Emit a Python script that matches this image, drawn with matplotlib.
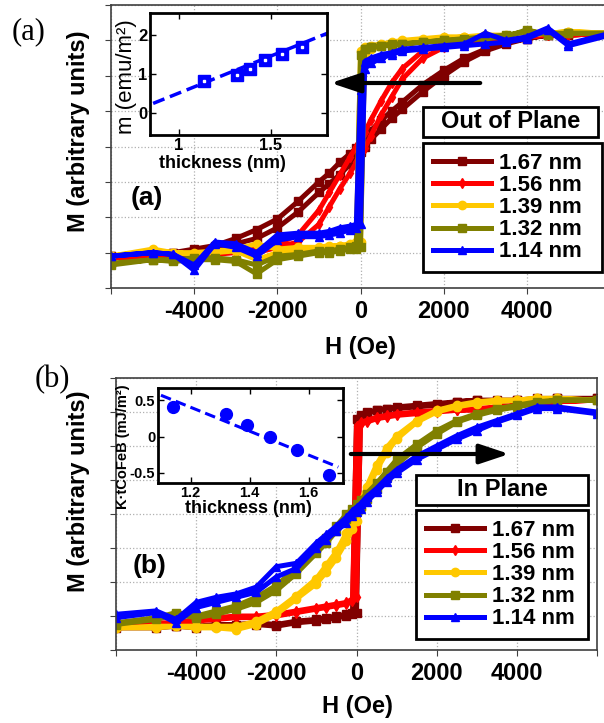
import numpy as np
import matplotlib.pyplot as plt
from matplotlib.patches import Rectangle, FancyArrowPatch

plt.rcParams['font.family'] = ['Liberation Sans', 'DejaVu Sans']

# applied field (Oe), same grid for every branch
field = [-6000, -5000, -4500, -4000, -3500, -3000, -2500, -2000, -1500, -1000,
         -750, -500, -250, -100, 0, 100, 250, 500, 750, 1000,
         1500, 2000, 2500, 3000, 3500, 4000, 4500, 5000, 6000]

# (a) out of plane, up = increasing field, dn = decreasing field
oop_167_up = [-3.1, -3.05, -3.0, -3.0, -2.9, -2.75, -2.6, -2.3, -1.85, -1.3, -1.05, -0.8, -0.5, -0.3, -0.15,
              0.0, 0.2, 0.5, 0.8, 1.05, 1.55, 2.0, 2.4, 2.7, 2.9, 3.05, 3.15, 3.15, 3.2]
oop_167_dn = [-3.1, -3.0, -3.0, -2.9, -2.8, -2.6, -2.35, -2.05, -1.55, -1.0, -0.75, -0.45, -0.2, -0.05, 0.1,
              0.25, 0.45, 0.75, 1.0, 1.25, 1.75, 2.15, 2.5, 2.75, 2.95, 3.05, 3.15, 3.15, 3.2]
oop_156_up = [-3.15, -3.1, -3.2, -3.1, -3.05, -3.0, -3.0, -2.85, -2.7, -2.2, -1.7, -1.2, -0.75, -0.45, -0.25,
              -0.05, 0.3, 0.9, 1.4, 1.9, 2.5, 2.8, 2.95, 3.0, 3.05, 3.1, 3.15, 3.15, 3.2]
oop_156_dn = [-3.15, -3.1, -3.15, -3.1, -3.0, -2.95, -2.9, -2.75, -2.5, -1.8, -1.3, -0.8, -0.3, 0.0, 0.2,
              0.4, 0.75, 1.3, 1.8, 2.2, 2.7, 2.9, 3.0, 3.05, 3.1, 3.1, 3.15, 3.15, 3.2]
oop_139_up = [-3.1, -2.9, -3.0, -3.05, -3.0, -2.95, -3.2, -3.0, -2.95, -2.9, -2.85, -2.8, -2.8, -2.75, -2.7,
              2.6, 2.75, 2.85, 2.9, 2.95, 3.0, 3.05, 3.1, 3.1, 3.1, 3.15, 3.2, 3.25, 3.2]
oop_139_dn = [-3.1, -2.95, -3.0, -3.0, -2.95, -2.9, -2.75, -2.9, -2.85, -2.85, -2.8, -2.8, -2.75, -2.7, 2.7,
              2.8, 2.85, 2.9, 2.95, 3.0, 3.05, 3.1, 3.1, 3.15, 3.15, 3.2, 3.2, 3.25, 3.2]
oop_132_up = [-3.35, -3.2, -3.25, -3.2, -3.2, -3.25, -3.6, -3.2, -3.1, -3.0, -3.0, -2.95, -2.9, -2.9, -2.85,
              2.75, 2.8, 2.85, 2.85, 2.9, 2.95, 3.0, 3.0, 3.05, 3.1, 3.3, 3.15, 3.2, 3.2]
oop_132_dn = [-3.3, -3.2, -3.2, -3.15, -3.15, -3.2, -3.35, -3.1, -3.05, -2.95, -2.95, -2.9, -2.85, -2.8, 2.6,
              2.75, 2.8, 2.85, 2.9, 2.9, 2.95, 3.0, 3.05, 3.1, 3.15, 3.25, 3.2, 3.2, 3.2]
oop_114_up = [-3.1, -3.0, -3.05, -3.5, -2.75, -2.85, -3.1, -2.65, -2.55, -2.55, -2.5, -2.45, -2.35, -2.3, -2.2,
              2.2, 2.35, 2.5, 2.6, 2.7, 2.75, 2.8, 2.85, 2.9, 2.95, 3.05, 3.3, 2.85, 3.15]
oop_114_dn = [-3.1, -3.0, -3.05, -3.35, -2.7, -2.75, -3.0, -2.5, -2.45, -2.45, -2.4, -2.3, -2.25, -2.2, 1.6,
              2.4, 2.5, 2.6, 2.65, 2.75, 2.8, 2.85, 2.9, 3.2, 3.0, 3.1, 3.35, 2.9, 3.2]

# (b) in plane
ip_167_up = [-3.35, -3.35, -3.3, -3.35, -3.3, -3.3, -3.25, -3.3, -3.2, -3.15, -3.1, -3.05, -3.0, -2.95, -2.9,
             2.85, 2.95, 3.05, 3.1, 3.1, 3.15, 3.2, 3.3, 3.35, 3.3, 3.35, 3.35, 3.4, 3.4]
ip_167_dn = [-3.3, -3.3, -3.3, -3.3, -3.25, -3.25, -3.2, -3.25, -3.15, -3.1, -3.05, -3.0, -2.95, -2.9, 2.8,
             2.9, 3.0, 3.05, 3.1, 3.15, 3.2, 3.25, 3.3, 3.35, 3.35, 3.35, 3.4, 3.4, 3.4]
ip_156_up = [-3.3, -3.25, -3.2, -3.15, -3.1, -3.05, -3.05, -3.0, -2.9, -2.8, -2.75, -2.7, -2.65, -2.55, -2.45,
             2.65, 2.7, 2.8, 2.85, 2.9, 2.95, 3.0, 3.05, 3.05, 3.1, 3.2, 3.25, 3.3, 3.35]
ip_156_dn = [-3.25, -3.2, -3.2, -3.1, -3.05, -3.0, -3.0, -2.95, -2.85, -2.75, -2.7, -2.65, -2.6, -2.5, 2.6,
             2.7, 2.75, 2.85, 2.9, 2.95, 3.0, 3.05, 3.05, 3.1, 3.15, 3.2, 3.25, 3.3, 3.35]
ip_139_up = [-3.35, -3.35, -3.3, -3.35, -3.35, -3.4, -3.25, -2.95, -2.5, -2.05, -1.7, -1.3, -0.8, -0.45, -0.2,
             0.15, 0.6, 1.3, 1.8, 2.2, 2.7, 3.0, 3.15, 3.25, 3.3, 3.35, 3.4, 3.4, 3.35]
ip_139_dn = [-3.35, -3.3, -3.3, -3.3, -3.3, -3.3, -3.15, -2.85, -2.4, -1.9, -1.5, -1.1, -0.55, -0.2, 0.05,
             0.35, 0.8, 1.45, 1.95, 2.3, 2.75, 3.05, 3.2, 3.3, 3.35, 3.35, 3.4, 3.4, 3.35]
ip_132_up = [-3.25, -3.1, -2.95, -3.05, -2.95, -2.8, -2.6, -2.25, -1.75, -1.15, -0.85, -0.5, -0.15, 0.0, 0.1,
             0.25, 0.45, 0.75, 1.1, 1.45, 1.95, 2.35, 2.7, 2.9, 3.05, 3.15, 3.25, 3.35, 3.35]
ip_132_dn = [-3.2, -3.05, -2.9, -3.0, -2.85, -2.7, -2.45, -2.1, -1.6, -1.0, -0.7, -0.35, 0.0, 0.15, 0.3,
             0.4, 0.6, 0.9, 1.25, 1.6, 2.05, 2.45, 2.75, 2.95, 3.1, 3.2, 3.3, 3.35, 3.35]
ip_114_up = [-3.05, -2.9, -3.2, -2.75, -2.6, -2.45, -2.3, -1.85, -1.6, -1.0, -0.75, -0.5, -0.25, -0.05, 0.05,
             0.15, 0.35, 0.65, 0.95, 1.2, 1.6, 1.9, 2.2, 2.45, 2.7, 2.9, 3.1, 3.1, 2.95]
ip_114_dn = [-2.95, -2.85, -3.1, -2.6, -2.45, -2.35, -2.15, -1.55, -1.45, -0.85, -0.6, -0.35, -0.1, 0.1, 0.2,
             0.3, 0.5, 0.75, 1.05, 1.3, 1.7, 2.0, 2.3, 2.55, 2.75, 2.95, 3.15, 3.15, 3.0]

labels = ['1.67 nm', '1.56 nm', '1.39 nm', '1.32 nm', '1.14 nm']
colors = ['#800000', '#ff0000', '#ffc800', '#808000', '#0000ff']
markers = ['s', 'd', 'o', 's', '^']
msizes = [6, 5, 6, 6, 6]

# insets
thick = [1.14, 1.32, 1.39, 1.47, 1.56, 1.67]
moment = [0.82, 0.97, 1.12, 1.36, 1.50, 1.70]
moment_fit_t = [0.86, 1.81]
moment_fit = [0.24, 2.04]
anis = [0.41, 0.31, 0.16, 0.0, -0.19, -0.53]
anis_fit_t = [1.10, 1.70]
anis_fit = [0.57, -0.42]

W, H = 604, 723
fig = plt.figure(figsize=(W / 100, H / 100), dpi=100)


def rect(x0, y0, x1, y1):
    return [x0 / W, 1 - y1 / H, (x1 - x0) / W, (y1 - y0) / H]


def fx(x):
    return x / W


def fy(y):
    return 1 - y / H


def main_panel(r, branches, title, tag, leg_box, title_box, tag_xy, ylab_xy, xlab_xy):
    ax = fig.add_axes(r)
    for (up, dn), lab, c, m, ms in zip(branches, labels, colors, markers, msizes):
        ax.plot(field + field[::-1], up + dn[::-1], color=c, marker=m, ms=ms,
                mec=c, lw=3.6, label=lab)
    ax.set_xlim(-6000, 6000)
    ax.set_ylim(-4, 4)
    ax.set_xticks(range(-6000, 6001, 2000))
    ax.set_xticklabels(['', '-4000', '-2000', '0', '2000', '4000', ''],
                       fontsize=17, fontweight='bold')
    ax.set_yticks(range(-4, 5))
    ax.set_yticklabels([])
    ax.tick_params(direction='out', length=4, color='#404040', pad=5)
    ax.grid(True, ls=':', color='#b0b0b0', lw=0.9)
    for s in ax.spines.values():
        s.set_color('#404040')
        s.set_linewidth(1.2)
    ax.set_xlabel('H (Oe)', fontsize=17, fontweight='bold')
    ax.set_ylabel('M (arbitrary units)', fontsize=17, fontweight='bold')
    ax.xaxis.set_label_coords(*xlab_xy)
    ax.yaxis.set_label_coords(*ylab_xy)

    x0, y0, x1, y1 = leg_box
    leg = ax.legend(loc='upper left', mode='expand',
                    bbox_to_anchor=(fx(x0), fy(y1), (x1 - x0) / W, (y1 - y0) / H),
                    bbox_transform=fig.transFigure, borderaxespad=0,
                    fancybox=False, edgecolor='black', framealpha=1,
                    prop={'size': 16, 'weight': 'bold'}, handlelength=2.6,
                    handletextpad=0.35, labelspacing=0.05, borderpad=0.45,
                    numpoints=1)
    leg.get_frame().set_linewidth(2)

    x0, y0, x1, y1 = title_box
    fig.add_artist(Rectangle((fx(x0), fy(y1)), (x1 - x0) / W, (y1 - y0) / H,
                             transform=fig.transFigure, fc='white', ec='black', lw=2, zorder=4))
    fig.text(fx((x0 + x1) / 2), fy((y0 + y1) / 2), title, fontsize=17, fontweight='bold',
             ha='center', va='center', zorder=5)
    fig.text(fx(tag_xy[0]), fy(tag_xy[1]), tag, fontsize=19, fontweight='bold',
             ha='center', va='center')
    return ax


main_panel(rect(111, 5, 610, 288),
           [(oop_167_up, oop_167_dn), (oop_156_up, oop_156_dn), (oop_139_up, oop_139_dn),
            (oop_132_up, oop_132_dn), (oop_114_up, oop_114_dn)],
           'Out of Plane', '(a)', (423, 143, 602, 283), (423, 107, 598, 137),
           (147, 198), (-0.042, 0.555), (0.499, -0.17))

main_panel(rect(116, 378, 597, 650),
           [(ip_167_up, ip_167_dn), (ip_156_up, ip_156_dn), (ip_139_up, ip_139_dn),
            (ip_132_up, ip_132_dn), (ip_114_up, ip_114_dn)],
           'In Plane', '(b)', (416, 510, 588, 645), (416, 475, 588, 505),
           (150, 566), (-0.054, 0.585), (0.501, -0.165))


def inset_style(ax, tick_fs):
    for s in ax.spines.values():
        s.set_linewidth(2)
        s.set_color('black')
    ax.tick_params(direction='in', top=True, right=True, length=4, width=1,
                   labelsize=tick_fs, pad=2)
    for t in ax.get_xticklabels() + ax.get_yticklabels():
        t.set_fontweight('bold')


# inset (a): moment vs thickness
ia = fig.add_axes(rect(150, 13, 327, 135))
ia.plot(moment_fit_t, moment_fit, color='blue', lw=2.5, ls=(0, (3.5, 1.7)))
ia.plot(thick, moment, 's', color='blue', ms=9)
ia.plot(thick, moment, 's', color='white', ms=2)
ia.set_xlim(0.843, 1.808)
ia.set_ylim(-0.57, 2.56)
ia.set_xticks([1, 1.5])
ia.set_xticklabels(['1', '1.5'])
ia.set_yticks([0, 1, 2])
inset_style(ia, 12)
ia.set_xlabel('thickness (nm)', fontsize=13, fontweight='bold')
ia.xaxis.set_label_coords(0.41, -0.16)
ia.set_ylabel('m (emu/m²)', fontsize=16)
ia.yaxis.set_label_coords(-0.075, 0.48)

# inset (b): anisotropy vs thickness
ib = fig.add_axes(rect(158, 388, 343, 483))
ib.plot(anis_fit_t, anis_fit, color='blue', lw=2.2, ls=(0, (3.5, 1.7)))
ib.plot(thick, anis, 'o', color='blue', ms=8.5)
ib.set_xlim(1.09, 1.716)
ib.set_ylim(-0.64, 0.67)
ib.set_xticks([1.2, 1.4, 1.6])
ib.set_yticks([-0.5, 0, 0.5])
ib.set_yticklabels(['-0.5', '0', '0.5'])
inset_style(ib, 10.5)
ib.set_xlabel('thickness (nm)', fontsize=13, fontweight='bold')
ib.xaxis.set_label_coords(0.49, -0.18)
ib.set_ylabel('K·tCoFeB (mJ/m²)', fontsize=10.5, fontweight='bold')
ib.yaxis.set_label_coords(-0.15, 0.38)

# arrows pointing from the loops to the insets
fig.add_artist(FancyArrowPatch((fx(483), fy(83)), (fx(328), fy(83)), transform=fig.transFigure,
                               arrowstyle='-|>,head_length=0.9,head_width=0.3',
                               mutation_scale=20, lw=3, color='black', zorder=6))
fig.add_artist(FancyArrowPatch((fx(348), fy(454)), (fx(512), fy(454)), transform=fig.transFigure,
                               arrowstyle='-|>,head_length=0.9,head_width=0.3',
                               mutation_scale=20, lw=3, color='black', zorder=6))

fig.text(fx(29), fy(32), '(a)', family='Liberation Serif', fontsize=22, ha='center', va='center')
fig.text(fx(52), fy(380), '(b)', family='Liberation Serif', fontsize=22, ha='center', va='center')

fig.savefig('out.png', dpi=100)
